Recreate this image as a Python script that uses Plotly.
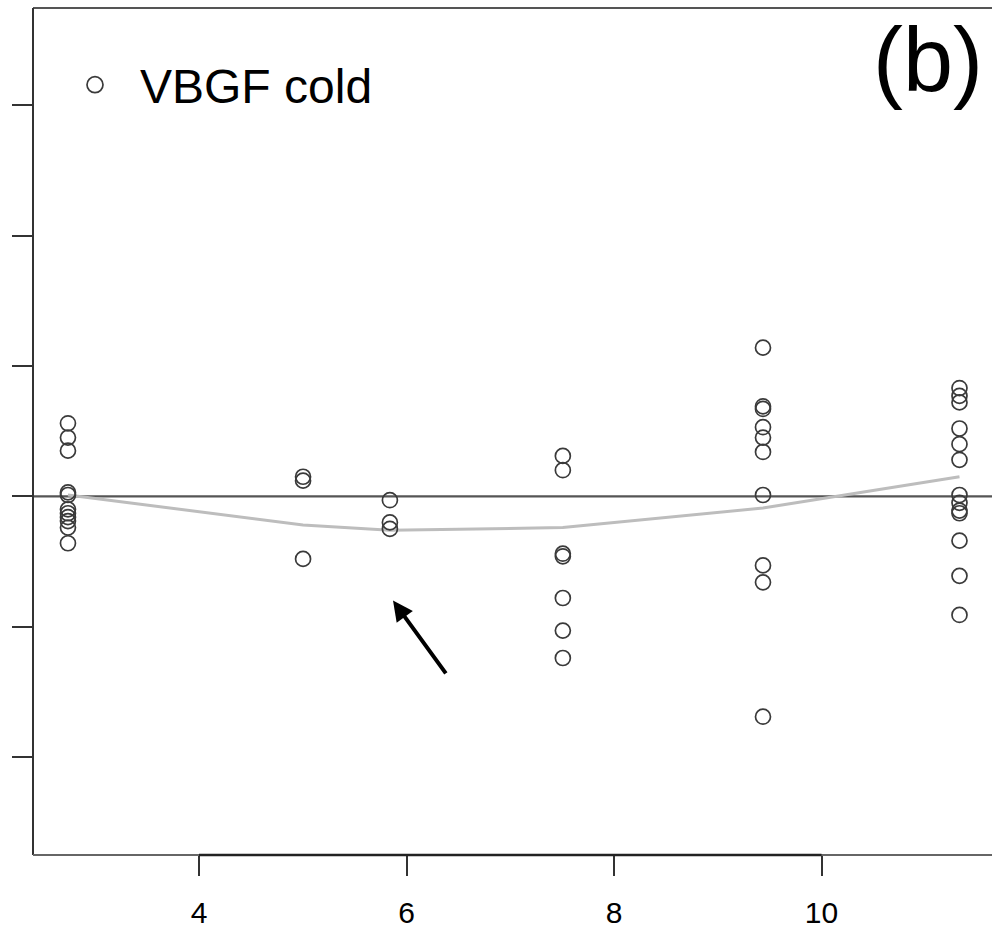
import plotly.graph_objects as go

# ---- data ----
x_groups = [2.737, 5.003, 5.84, 7.507, 9.436, 11.33]
y_g1 = [0.56, 0.45, 0.35, 0.03, 0.01, -0.10, -0.13, -0.16, -0.19, -0.24, -0.36]
y_g2 = [0.15, 0.12, -0.48]
y_g3 = [-0.03, -0.20, -0.25]
y_g4 = [0.31, 0.20, -0.44, -0.46, -0.78, -1.03, -1.24]
y_g5 = [1.14, 0.69, 0.67, 0.53, 0.45, 0.34, 0.01, -0.53, -0.66, -1.69]
y_g6 = [0.83, 0.77, 0.72, 0.52, 0.40, 0.28, 0.01, -0.05, -0.11, -0.13, -0.34, -0.61, -0.91]
smooth_y = [0.01, -0.22, -0.26, -0.24, -0.09, 0.15]

ytick_vals = [-2, -1, 0, 1, 2, 3]
xtick_vals = [4, 6, 8, 10]
xtick_text = ["4", "6", "8", "10"]
legend_label = "VBGF cold"
panel_label = "(b)"
arrow_head = (5.87, -0.80)
arrow_tail = (6.39, -1.37)

groups = [y_g1, y_g2, y_g3, y_g4, y_g5, y_g6]
xs, ys = [], []
for gx, gy in zip(x_groups, groups):
    xs += [gx] * len(gy)
    ys += gy

FONT = "Liberation Sans, Arial, sans-serif"
W, H = 992, 931
ML, MR, MT, MB = 33, 0, 8, 76
px_per_x = 103.75
x0 = 4 - (199 - ML) / px_per_x
x1 = x0 + (W - ML - MR) / px_per_x
px_per_y = 130.4
zero_px = 496.3
y_top = (zero_px - MT) / px_per_y
y_bot = -(H - MB - zero_px) / px_per_y

fig = go.Figure()
fig.add_trace(go.Scatter(
    x=x_groups, y=smooth_y, mode="lines",
    line=dict(color="#bdbdbd", width=3), showlegend=False, hoverinfo="skip"))
fig.add_trace(go.Scatter(
    x=xs, y=ys, mode="markers", name=legend_label, showlegend=False,
    marker=dict(symbol="circle-open", size=15, color="#3a3a3a",
                line=dict(width=1.7, color="#3a3a3a"))))
# legend entry only
fig.add_trace(go.Scatter(
    x=[None], y=[None], mode="markers", name=legend_label, showlegend=True,
    marker=dict(symbol="circle-open", size=16, color="#3a3a3a",
                line=dict(width=1.7, color="#3a3a3a"))))

shapes = [
    dict(type="line", xref="paper", yref="y", x0=0, x1=1, y0=0, y1=0,
         line=dict(color="#555555", width=2.2), layer="below"),
    dict(type="line", xref="paper", yref="paper", x0=0, x1=1, y0=1, y1=1,
         line=dict(color="#555555", width=2)),
    dict(type="line", xref="paper", yref="paper", x0=0, x1=0, y0=0, y1=1,
         line=dict(color="#333333", width=2)),
    dict(type="line", xref="paper", yref="paper", x0=0, x1=1, y0=0, y1=0,
         line=dict(color="#666666", width=2)),
    dict(type="line", xref="x", yref="paper", x0=xtick_vals[0], x1=xtick_vals[-1],
         y0=0, y1=0, line=dict(color="#222222", width=2.4)),
]

fig.update_layout(
    width=W, height=H,
    margin=dict(l=ML, r=MR, t=MT, b=MB, pad=0, autoexpand=False),
    paper_bgcolor="white", plot_bgcolor="white",
    font=dict(family=FONT, color="black"),
    shapes=shapes,
    showlegend=True,
    legend=dict(x=(50 - ML) / (W - ML - MR), y=1 - (85 - MT) / (H - MT - MB),
                xanchor="left", yanchor="middle", bgcolor="rgba(0,0,0,0)",
                font=dict(size=48, family=FONT, color="black"),
                itemwidth=80, borderwidth=0, itemsizing="trace"),
    xaxis=dict(range=[x0, x1], tickvals=xtick_vals, ticktext=xtick_text,
               ticks="outside", ticklen=20, tickwidth=2, tickcolor="#333333",
               showgrid=False, zeroline=False, showline=False, automargin=False,
               tickfont=dict(size=30, family=FONT, color="black"),
               ticklabelstandoff=11),
    yaxis=dict(range=[y_bot, y_top], tickvals=ytick_vals,
               ticks="outside", ticklen=20, tickwidth=2, tickcolor="#333333",
               showticklabels=False, showgrid=False, zeroline=False, showline=False,
               automargin=False),
    annotations=[
        dict(x=arrow_head[0], y=arrow_head[1], ax=arrow_tail[0], ay=arrow_tail[1],
             xref="x", yref="y", axref="x", ayref="y", text="", showarrow=True,
             arrowhead=2, arrowsize=1.0, arrowwidth=4, arrowcolor="black"),
        dict(x=(928 - ML) / (W - ML - MR), y=1 - (60 - MT) / (H - MT - MB),
             xref="paper", yref="paper",
             text=panel_label, showarrow=False, xanchor="center", yanchor="middle",
             font=dict(size=90, family=FONT, color="black")),
    ],
)

fig.write_html("out.html")
